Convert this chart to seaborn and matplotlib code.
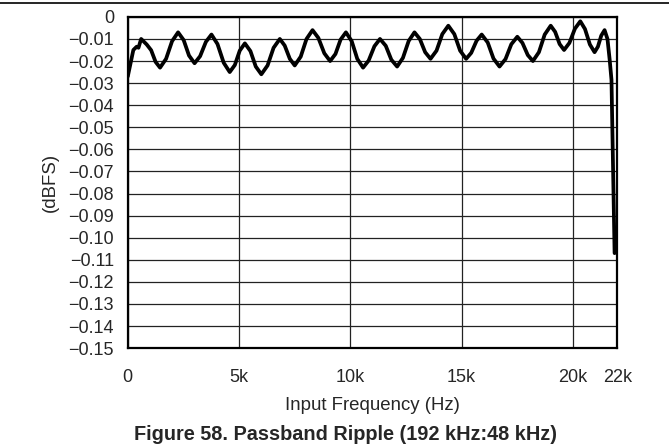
import numpy as np
import matplotlib.pyplot as plt
import seaborn as sns
from matplotlib.lines import Line2D

# passband ripple (frequency in kHz, level in dBFS)
freq_khz = [
    0.0, 0.25, 0.4, 0.48, 0.6, 0.85,
    1.05, 1.25, 1.45, 1.72, 1.99, 2.26,
    2.51, 2.75, 3.0, 3.25, 3.51, 3.76,
    4.03, 4.31, 4.58, 4.81, 5.03, 5.26,
    5.51, 5.75, 6.0, 6.28, 6.55, 6.83,
    7.05, 7.28, 7.5, 7.77, 8.03, 8.3,
    8.56, 8.83, 9.09, 9.33, 9.56, 9.8,
    10.06, 10.31, 10.57, 10.82, 11.08, 11.33,
    11.59, 11.84, 12.1, 12.36, 12.62, 12.88,
    13.12, 13.36, 13.6, 13.87, 14.13, 14.4,
    14.67, 14.93, 15.2, 15.43, 15.67, 15.9,
    16.17, 16.43, 16.7, 16.97, 17.23, 17.5,
    17.73, 17.97, 18.2, 18.47, 18.73, 19.0,
    19.2, 19.4, 19.6, 19.84, 20.09, 20.33,
    20.54, 20.76, 20.97, 21.12, 21.27, 21.42,
    21.55, 21.65, 21.73, 21.87,
]
level_dbfs = [
    -0.027, -0.015, -0.0135, -0.014, -0.010, -0.0125,
    -0.0151, -0.0204, -0.023, -0.019, -0.011, -0.007,
    -0.0105, -0.0175, -0.021, -0.0178, -0.0113, -0.008,
    -0.0123, -0.0208, -0.025, -0.0218, -0.0153, -0.012,
    -0.0155, -0.0225, -0.026, -0.022, -0.014, -0.010,
    -0.013, -0.019, -0.022, -0.018, -0.010, -0.006,
    -0.0095, -0.0165, -0.020, -0.0168, -0.0103, -0.007,
    -0.011, -0.019, -0.023, -0.0198, -0.0133, -0.010,
    -0.0131, -0.0194, -0.0225, -0.0186, -0.0109, -0.007,
    -0.010, -0.016, -0.019, -0.0153, -0.0078, -0.004,
    -0.0078, -0.0153, -0.019, -0.0163, -0.0108, -0.008,
    -0.0116, -0.0189, -0.0225, -0.0191, -0.0124, -0.009,
    -0.0118, -0.0173, -0.020, -0.016, -0.008, -0.004,
    -0.0068, -0.0123, -0.015, -0.0118, -0.0053, -0.002,
    -0.0055, -0.0125, -0.016, -0.0135, -0.0085, -0.006,
    -0.010, -0.0195, -0.0285, -0.107,
]

xtick_vals = [0, 5, 10, 15, 20, 22]
xtick_labels = ["0", "5k", "10k", "15k", "20k", "22k"]
ytick_vals = [0, -0.01, -0.02, -0.03, -0.04, -0.05, -0.06, -0.07,
              -0.08, -0.09, -0.10, -0.11, -0.12, -0.13, -0.14, -0.15]
ytick_labels = ["0", "\u22120.01", "\u22120.02", "\u22120.03", "\u22120.04",
                "\u22120.05", "\u22120.06", "\u22120.07", "\u22120.08",
                "\u22120.09", "\u22120.10", "\u22120.11", "\u22120.12",
                "\u22120.13", "\u22120.14", "\u22120.15"]

sns.set_style("white")
plt.rcParams["font.family"] = ["Liberation Sans", "DejaVu Sans"]

fig, ax = plt.subplots(figsize=(6.69, 4.44), dpi=100)
fig.subplots_adjust(left=0.191, right=0.923, top=0.962, bottom=0.216)

sns.lineplot(x=freq_khz, y=level_dbfs, color="black", linewidth=2.7, ax=ax)
ax.lines[0].set_solid_joinstyle("round")

ax.set_xlim(0, 22)
ax.set_ylim(-0.15, 0)
ax.set_xticks(xtick_vals)
ax.set_xticklabels(xtick_labels, fontsize=13)
ax.set_yticks(ytick_vals)
ax.set_yticklabels(ytick_labels, fontsize=13)
ax.tick_params(axis="both", length=0)
ax.tick_params(axis="x", pad=15)
ax.tick_params(axis="y", pad=10)
ax.grid(True, color="#222222", linewidth=0.9)
ax.set_axisbelow(True)
for sp in ax.spines.values():
    sp.set_color("black")
    sp.set_linewidth(1.6)

ax.set_xlabel("Input Frequency (Hz)", fontsize=13.4, labelpad=8)
ax.set_ylabel("(dBFS)", fontsize=13.4, labelpad=7)

fig.text(0.516, 0.010, "Figure 58. Passband Ripple (192 kHz:48 kHz)",
         ha="center", va="baseline", fontsize=14.3, fontweight="bold")
fig.add_artist(Line2D([0, 1], [0.993, 0.993], transform=fig.transFigure,
                      color="black", linewidth=1.2))

plt.savefig("out.png", dpi=100)
